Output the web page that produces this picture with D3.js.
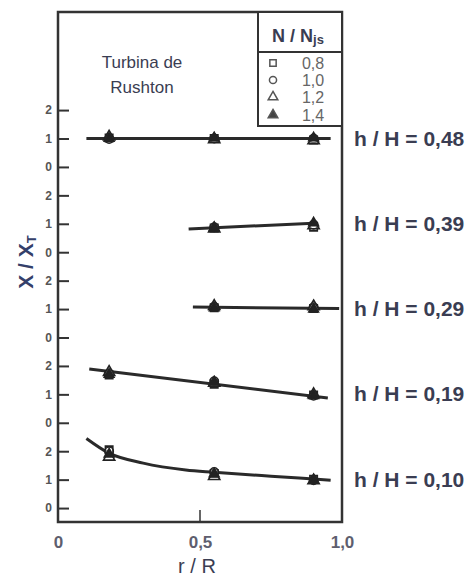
<!DOCTYPE html>
<html>
<head>
<meta charset="utf-8">
<script src="https://cdn.jsdelivr.net/npm/d3@7"></script>
<style>
  body { margin: 0; background: #fff; }
  svg { font-family: "Liberation Sans", Arial, sans-serif; }
</style>
</head>
<body>
<div id="chart"></div>
<script>
(function () {

    // h/H levels, top panel first; each panel spans 3 units on the stacked y axis
    var levels = ["0,48", "0,39", "0,29", "0,19", "0,10"];
    var offsets = [12, 9, 6, 3, 0];

    // N/Njs series
    var series = ["0,8", "1,0", "1,2", "1,4"];
    var symbolTypes = [d3.symbolSquare, d3.symbolCircle, d3.symbolTriangle, d3.symbolTriangle];
    var symbolFill = ["#fff", "#fff", "#fff", "#222"];

    // measured X/XT values: points[level][series] = [[r/R, X/XT], ...]
    var points = [
        [[[0.18, 1.02], [0.55, 1.00], [0.90, 0.95]],
         [[0.18, 0.98], [0.55, 1.00], [0.90, 1.00]],
         [[0.18, 1.06], [0.55, 0.97], [0.90, 0.93]],
         [[0.18, 1.00], [0.55, 1.02], [0.90, 1.02]]],
        [[[0.55, 0.85], [0.90, 0.88]],
         [[0.55, 0.88], [0.90, 0.97]],
         [[0.55, 0.83], [0.90, 0.94]],
         [[0.55, 0.86], [0.90, 1.03]]],
        [[[0.55, 1.05], [0.90, 1.02]],
         [[0.55, 1.08], [0.90, 1.06]],
         [[0.55, 1.10], [0.90, 1.09]],
         [[0.55, 1.04], [0.90, 1.00]]],
        [[[0.18, 1.68], [0.55, 1.36], [0.90, 0.98]],
         [[0.18, 1.73], [0.55, 1.46], [0.90, 0.95]],
         [[0.18, 1.78], [0.55, 1.40], [0.90, 1.00]],
         [[0.18, 1.70], [0.55, 1.43], [0.90, 0.95]]],
        [[[0.18, 2.05], [0.55, 1.22], [0.90, 1.01]],
         [[0.18, 2.00], [0.55, 1.27], [0.90, 0.98]],
         [[0.18, 1.80], [0.55, 1.12], [0.90, 0.97]],
         [[0.18, 1.90], [0.55, 1.20], [0.90, 0.97]]]
    ];

    // fitted curves drawn through each panel
    var fits = [
        [[0.10, 1.00], [0.96, 1.00]],
        [[0.46, 0.82], [0.90, 1.02]],
        [[0.475, 1.07], [0.99, 1.02]],
        [[0.11, 1.89], [0.95, 0.87]],
        [[0.10, 2.45], [0.18, 1.93], [0.30, 1.58], [0.45, 1.34], [0.55, 1.26], [0.75, 1.12], [0.90, 1.02], [0.96, 0.98]]
    ];

    var xTicks = [0, 0.5, 1.0];
    var xTickLabels = ["0", "0,5", "1,0"];
    var yTickLabels = ["0", "1", "2"];

    var width = 471, height = 579;
    var left = 58, right = 342, top = 12, bottom = 522;

    var svg = d3.select("#chart").append("svg")
        .attr("width", width)
        .attr("height", height);

    var x = d3.scaleLinear().domain([0, 1]).range([left, right]);
    var y = d3.scaleLinear().domain([-0.49, 17.45]).range([bottom, top]);

    // y axis, ticks pointing inward
    var yAxis = d3.axisLeft(y)
        .tickValues(d3.range(15))
        .tickSize(-11)
        .tickPadding(6)
        .tickFormat(function (d) { return yTickLabels[d % 3]; });
    var gy = svg.append("g").attr("transform", "translate(" + left + ",0)").call(yAxis);
    gy.select(".domain").remove();
    gy.selectAll(".tick line").attr("stroke", "#333").attr("stroke-width", 2);
    gy.selectAll(".tick text")
        .attr("fill", "#555")
        .style("font-size", "12px")
        .style("font-weight", "bold");

    // x axis
    var xAxis = d3.axisBottom(x)
        .tickValues(xTicks)
        .tickSize(0)
        .tickPadding(0)
        .tickFormat(function (d, i) { return xTickLabels[i]; });
    var gx = svg.append("g").attr("transform", "translate(0," + bottom + ")").call(xAxis);
    gx.select(".domain").remove();
    gx.selectAll(".tick text")
        .attr("y", 26)
        .attr("dy", 0)
        .attr("fill", "#5e5e6e")
        .style("font-size", "17px")
        .style("font-weight", "bold");
    svg.append("line")
        .attr("x1", x(0.5)).attr("x2", x(0.5))
        .attr("y1", bottom).attr("y2", bottom - 12)
        .attr("stroke", "#333").attr("stroke-width", 1.5);

    // frame
    svg.append("rect")
        .attr("x", left).attr("y", top)
        .attr("width", right - left).attr("height", bottom - top)
        .attr("fill", "none")
        .attr("stroke", "#333")
        .attr("stroke-width", 2.5);

    // fitted lines
    var line = d3.line()
        .x(function (d) { return x(d[0]); })
        .curve(d3.curveMonotoneX);

    fits.forEach(function (f, i) {
        line.y(function (d) { return y(d[1] + offsets[i]); });
        svg.append("path")
            .attr("d", line(f))
            .attr("fill", "none")
            .attr("stroke", "#2a2a2a")
            .attr("stroke-width", 3);
    });

    // markers
    points.forEach(function (lvl, i) {
        lvl.forEach(function (pts, s) {
            svg.selectAll(null)
                .data(pts)
                .enter()
                .append("path")
                .attr("d", d3.symbol().type(symbolTypes[s]).size(s === 3 ? 40 : 55))
                .attr("transform", function (d) {
                    return "translate(" + x(d[0]) + "," + y(d[1] + offsets[i]) + ")";
                })
                .attr("fill", symbolFill[s])
                .attr("fill-opacity", s === 3 ? 1 : 0.3)
                .attr("stroke", "#222")
                .attr("stroke-width", 1.6);
        });
    });

    // h/H labels
    svg.selectAll(".hlabel")
        .data(levels)
        .enter()
        .append("text")
        .attr("class", "hlabel")
        .attr("x", 354)
        .attr("y", function (d, i) { return y(1 + offsets[i]) + 7; })
        .attr("fill", "#3a3d52")
        .style("font-size", "21px")
        .style("font-weight", "bold")
        .text(function (d) { return "h / H = " + d; });

    // legend box
    var lx = 258;
    svg.append("rect")
        .attr("x", lx).attr("y", top)
        .attr("width", right - lx).attr("height", 126 - top)
        .attr("fill", "#fff")
        .attr("stroke", "#333")
        .attr("stroke-width", 2);
    svg.append("line")
        .attr("x1", lx).attr("x2", right)
        .attr("y1", 52).attr("y2", 52)
        .attr("stroke", "#333").attr("stroke-width", 2);
    var title = svg.append("text")
        .attr("x", 272).attr("y", 42)
        .attr("fill", "#3a3d52")
        .style("font-size", "18px")
        .style("font-weight", "bold");
    title.append("tspan").text("N / N");
    title.append("tspan").attr("dy", 2).style("font-size", "13px").text("js");

    var rowY = [63, 80, 97, 115];
    series.forEach(function (s, i) {
        svg.append("path")
            .attr("d", d3.symbol().type(symbolTypes[i]).size(40))
            .attr("transform", "translate(273," + rowY[i] + ")")
            .attr("fill", i === 3 ? "#444" : "#fff")
            .attr("stroke", "#555")
            .attr("stroke-width", 1.5);
        svg.append("text")
            .attr("x", 313).attr("y", rowY[i] + 6)
            .attr("text-anchor", "middle")
            .attr("fill", "#666")
            .style("font-size", "16px")
            .text(s);
    });

    // annotation
    svg.append("text")
        .attr("x", 142).attr("y", 68)
        .attr("text-anchor", "middle")
        .attr("fill", "#3a3d52")
        .style("font-size", "17px")
        .text("Turbina de");
    svg.append("text")
        .attr("x", 142).attr("y", 93)
        .attr("text-anchor", "middle")
        .attr("fill", "#3a3d52")
        .style("font-size", "17px")
        .text("Rushton");

    // axis titles
    svg.append("text")
        .attr("x", 197).attr("y", 573)
        .attr("text-anchor", "middle")
        .attr("fill", "#3a3d52")
        .style("font-size", "20px")
        .text("r / R");

    var yt = svg.append("text")
        .attr("transform", "translate(33,262) rotate(-90)")
        .attr("text-anchor", "middle")
        .attr("fill", "#34406a")
        .style("font-size", "21px")
        .style("font-weight", "bold");
    yt.append("tspan").text("X / X");
    yt.append("tspan").attr("dy", 3).style("font-size", "13px").text("T");
})();
</script>
</body>
</html>
